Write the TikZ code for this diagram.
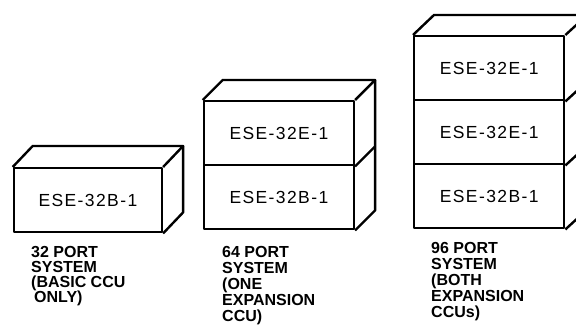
\documentclass[tikz,border=0pt]{standalone}
\usepackage{fontspec}
\usetikzlibrary{calc}
\setmainfont{Liberation Sans}
\newfontfamily\boxfont[LetterSpace=8]{Liberation Sans}
\newfontfamily\lblfont{Liberation Sans}
\begin{document}
\begin{tikzpicture}[x=1pt,y=-1pt,line width=2.4pt,line join=round,
  unit/.style={draw,minimum width=150pt,minimum height=64pt,inner sep=0pt,anchor=north west,
    font=\boxfont\fontsize{17.5}{17.5}\selectfont},
  lbl/.style={anchor=north west,align=left,inner sep=0pt,
    font=\lblfont\bfseries\fontsize{16}{16}\selectfont},
  lblshort/.style={lbl,font=\lblfont\bfseries\fontsize{16}{15}\selectfont}]
\useasboundingbox (0,0) rectangle (576,334);
% ---- 32 port
\node[unit,minimum width=148pt] (a1) at (12.7,167) {ESE-32B-1};
\draw (a1.north west) -- ++(20,-21) -- ($(a1.north east)+(20,-21)$) -- (a1.north east);
\draw ($(a1.north east)+(20,-21)$) -- ($(a1.south east)+(20,-21)$) -- (a1.south east);
\node[lblshort] (la) at (30,245) {32 PORT\\SYSTEM\\(BASIC CCU\\\hspace*{3pt}ONLY)};
% ---- 64 port
\node[unit] (b2) at (202.7,100) {ESE-32E-1};
\node[unit] (b1) at (202.7,164) {ESE-32B-1};
\draw (b2.north west) -- ++(20,-20) -- ($(b2.north east)+(20,-20)$) -- (b2.north east);
\draw ($(b2.north east)+(20,-20)$) -- ($(b1.south east)+(20,-20)$) -- (b1.south east);
\draw (b2.south east) -- ++(20,-20);
\node[lbl] (lb) at (221,245) {64 PORT\\SYSTEM\\(ONE\\EXPANSION\\CCU)};
% ---- 96 port
\node[unit] (c3) at (413,35) {ESE-32E-1};
\node[unit] (c2) at (413,99) {ESE-32E-1};
\node[unit] (c1) at (413,163) {ESE-32B-1};
\draw (c3.north west) -- ++(21,-20) -- (576,15);
\draw (c3.north east) -- ++(12,-11) -- ($(c1.south east)+(12,-11)$) -- (c1.south east);
\draw (c3.south east) -- ++(12,-11);
\draw (c2.south east) -- ++(12,-11);
\node[lbl] (lc) at (430,241) {96 PORT\\SYSTEM\\(BOTH\\EXPANSION\\CCUs)};
\end{tikzpicture}
\end{document}
